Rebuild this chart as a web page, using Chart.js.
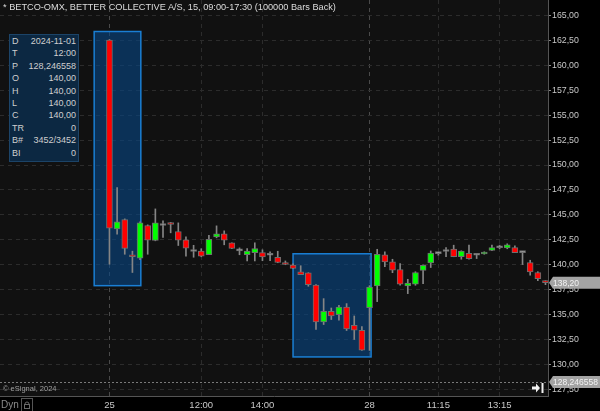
<!DOCTYPE html>
<html>
<head>
<meta charset="utf-8">
<script src="https://cdn.jsdelivr.net/npm/chart.js@4.4.1/dist/chart.umd.min.js"></script>
<style>
  html, body { margin: 0; padding: 0; background: #000; }
  #wrap { position: relative; width: 600px; height: 411px; overflow: hidden; font-family: "Liberation Sans", Arial, sans-serif; }
  #c { position: absolute; left: 0; top: 0; }
  #title { position: absolute; left: 3px; top: 1px; font-size: 9.2px; line-height: 12px; color: #ddd; white-space: nowrap; }
  #dw { position: absolute; left: 9px; top: 34px; width: 70px; height: 128px; background: #0c2842; border: 1px solid #1c4468; box-sizing: border-box; color: #cfcfcf; font-size: 9px; padding: 0 2px 0 2px; }
  #dw .row { display: flex; justify-content: space-between; height: 12.4px; line-height: 12.4px; }
  #copy { position: absolute; left: 3px; top: 384px; font-size: 7.5px; color: #a0a0a0; white-space: nowrap; }
  #dyn { position: absolute; left: 1px; top: 399px; font-size: 10px; color: #8a8a8a; }
</style>
</head>
<body>
<div id="wrap">
  <canvas id="c" width="600" height="411"></canvas>
  <div id="title">* BETCO-OMX, BETTER COLLECTIVE A/S, 15, 09:00-17:30 (100000 Bars Back)</div>
  <div id="dw"></div>
  <div id="copy">© eSignal, 2024</div>
  <div id="dyn">Dyn</div>
</div>
<script>
// 15 minute bars, Fri 25 and Mon 28
const opens  = [162.54, 143.60, 144.54, 140.98, 140.65, 143.94, 142.43, 143.94, 144.20, 143.33,
                142.49, 141.33, 141.36, 141.02, 142.78, 143.10, 142.19, 141.39, 141.02, 141.22,
                141.23, 140.95, 140.75, 140.18, 139.97, 139.30, 139.18, 137.97, 134.26, 135.33,
                135.00, 135.76, 133.92, 133.43,
                135.70, 137.87, 141.00, 140.28, 139.52, 137.87, 138.04, 139.42, 140.18, 141.12,
                141.33, 141.56, 140.82, 141.15, 140.95, 141.08, 141.43, 141.70, 141.69, 141.73,
                141.22, 140.22, 139.22, 138.40];
const highs  = [162.60, 147.75, 144.60, 141.36, 144.30, 144.00, 145.60, 144.40, 144.25, 144.20,
                142.80, 141.95, 141.60, 142.96, 143.90, 143.40, 142.20, 141.69, 141.63, 142.20,
                141.50, 141.30, 141.35, 140.38, 140.10, 139.90, 139.20, 138.00, 136.60, 135.66,
                135.93, 136.10, 134.86, 133.80,
                137.90, 141.55, 141.30, 140.55, 140.12, 138.54, 139.30, 140.00, 141.38, 141.25,
                141.73, 141.96, 141.40, 141.96, 141.00, 141.30, 141.96, 141.96, 142.10, 141.90,
                141.30, 140.45, 139.30, 138.40];
const lows   = [140.05, 143.06, 141.05, 139.22, 140.50, 141.05, 142.40, 142.73, 143.20, 141.93,
                140.85, 140.75, 140.80, 141.00, 142.70, 142.00, 141.60, 141.00, 140.38, 140.38,
                140.40, 140.40, 140.20, 140.00, 139.60, 139.00, 137.84, 133.50, 134.00, 134.50,
                134.43, 133.40, 132.50, 131.40,
                131.40, 136.30, 139.80, 139.20, 137.94, 137.10, 137.94, 138.10, 139.72, 140.95,
                140.80, 140.80, 140.55, 140.55, 140.62, 141.05, 141.40, 141.60, 141.60, 141.20,
                140.02, 138.95, 138.40, 138.00];
const closes = [143.66, 144.30, 141.63, 140.80, 144.20, 142.46, 144.20, 143.94, 144.04, 142.46,
                141.66, 141.33, 140.85, 142.56, 143.10, 142.46, 141.63, 141.39, 141.36, 141.63,
                140.78, 140.95, 140.22, 140.02, 139.64, 139.00, 138.00, 134.26, 135.33, 134.86,
                135.76, 133.55, 133.43, 131.42,
                137.77, 141.05, 140.28, 139.45, 138.04, 138.17, 139.22, 139.95, 141.18, 141.12,
                141.33, 140.80, 141.36, 140.62, 140.95, 141.28, 141.73, 141.70, 141.99, 141.22,
                141.22, 139.28, 138.61, 138.20];

const xTickIdx  = [0, 12, 20, 34, 43, 51];
const xTickText = ['25', '12:00', '14:00', '28', '11:15', '13:15'];
const sessionIdx = [0, 34];
const yTicks = [127.5, 130, 132.5, 135, 137.5, 140, 142.5, 145, 147.5, 150, 152.5, 155, 157.5, 160, 162.5, 165];

const lastPrice = 138.20;
const cursorPrice = 128.246558;

// drawn rectangles (bar index / price)
const boxFrom = [-2.0, 24.0];
const boxTo   = [4.1, 34.2];
const boxTop  = [163.4, 141.1];
const boxBot  = [137.9, 130.75];

const dwLabels = ['D', 'T', 'P', 'O', 'H', 'L', 'C', 'TR', 'B#', 'BI'];
const dwValues = ['2024-11-01', '12:00', '128,246558', '140,00', '140,00', '140,00', '140,00', '0', '3452/3452', '0'];

const dw = document.getElementById('dw');
dwLabels.forEach((l, i) => {
    const r = document.createElement('div');
    r.className = 'row';
    r.innerHTML = '<span>' + l + '</span><span>' + dwValues[i] + '</span>';
    dw.appendChild(r);
});

const GREEN = '#00ff00', RED = '#ff0000', DOJI = '#a8a8a8';
const FONT = '"Liberation Sans", Arial, sans-serif';
const fmt = v => v.toFixed(2).replace('.', ',');

const bodies = opens.map((o, i) => ({x: i, y: [Math.min(o, closes[i]), Math.max(o, closes[i])]}));
const wicks = opens.map((o, i) => ({x: i, y: [lows[i], highs[i]]}));
const bodyColors = opens.map((o, i) => closes[i] > o ? GREEN : (closes[i] < o ? RED : DOJI));

const decor = {
    id: 'decor',
    beforeDraw(chart) {
        const {ctx, chartArea: a} = chart;
        ctx.save();
        ctx.fillStyle = '#000';
        ctx.fillRect(0, 0, chart.width, chart.height);
        ctx.fillStyle = '#111111';
        ctx.fillRect(a.left, a.top, a.right - a.left, a.bottom - a.top);
        ctx.restore();
    },
    beforeDatasetsDraw(chart) {
        const {ctx, chartArea: a, scales: {x, y}} = chart;
        ctx.save();
        ctx.beginPath();
        ctx.rect(a.left, a.top, a.right - a.left, a.bottom - a.top);
        ctx.clip();
        for (let i = 0; i < boxFrom.length; i++) {
            const x0 = x.getPixelForValue(boxFrom[i]), x1 = x.getPixelForValue(boxTo[i]);
            const y0 = y.getPixelForValue(boxTop[i]), y1 = y.getPixelForValue(boxBot[i]);
            ctx.fillStyle = 'rgba(8, 70, 130, 0.62)';
            ctx.fillRect(x0, y0, x1 - x0, y1 - y0);
            ctx.strokeStyle = '#1a7fd4';
            ctx.lineWidth = 1.5;
            ctx.strokeRect(x0, y0, x1 - x0, y1 - y0);
        }
        // cursor price line
        const py = Math.round(y.getPixelForValue(cursorPrice)) + 0.5;
        ctx.strokeStyle = '#7a7a7a';
        ctx.lineWidth = 1;
        ctx.setLineDash([2, 2]);
        ctx.beginPath();
        ctx.moveTo(a.left, py);
        ctx.lineTo(a.right, py);
        ctx.stroke();
        ctx.restore();
    },
    afterDraw(chart) {
        const {ctx, chartArea: a, scales: {y}} = chart;
        ctx.save();
        // price tags on the axis
        const tag = (v, text) => {
            const ty = y.getPixelForValue(v);
            ctx.fillStyle = '#a3a3a3';
            ctx.beginPath();
            ctx.moveTo(a.right + 1, ty);
            ctx.lineTo(a.right + 5, ty - 6);
            ctx.lineTo(600, ty - 6);
            ctx.lineTo(600, ty + 6);
            ctx.lineTo(a.right + 5, ty + 6);
            ctx.closePath();
            ctx.fill();
            ctx.fillStyle = '#f2f2f2';
            ctx.font = '8.5px ' + FONT;
            ctx.textBaseline = 'middle';
            ctx.textAlign = 'left';
            ctx.fillText(text, a.right + 5, ty + 0.5);
        };
        tag(lastPrice, fmt(lastPrice));
        tag(cursorPrice, cursorPrice.toString().replace('.', ','));
        // scroll-to-end arrow
        const ay = 388;
        ctx.fillStyle = '#f0f0f0';
        ctx.beginPath();
        ctx.moveTo(532, ay - 1.5);
        ctx.lineTo(536, ay - 1.5);
        ctx.lineTo(536, ay - 4.5);
        ctx.lineTo(540, ay);
        ctx.lineTo(536, ay + 4.5);
        ctx.lineTo(536, ay + 1.5);
        ctx.lineTo(532, ay + 1.5);
        ctx.closePath();
        ctx.fill();
        ctx.fillRect(541.5, ay - 5, 2, 10);
        // lock box next to Dyn
        ctx.strokeStyle = '#555';
        ctx.lineWidth = 1;
        ctx.strokeRect(21.5, 398.5, 11, 13);
        ctx.strokeStyle = '#6a6a6a';
        ctx.strokeRect(24.5, 404.5, 5, 4);
        ctx.beginPath();
        ctx.arc(27, 404, 2, Math.PI, 0);
        ctx.stroke();
        ctx.restore();
    }
};

new Chart(document.getElementById('c'), {
    type: 'bar',
    data: {
        datasets: [
            {
                data: bodies,
                backgroundColor: bodyColors,
                borderColor: '#6e6e6e',
                borderWidth: 1,
                borderSkipped: false,
                barThickness: 6,
                minBarLength: 2,
                grouped: false,
                order: 0
            },
            {
                data: wicks,
                backgroundColor: '#858585',
                borderWidth: 0,
                barThickness: 1,
                grouped: false,
                order: 1
            }
        ]
    },
    options: {
        responsive: false,
        animation: false,
        layout: {padding: 0},
        plugins: {legend: {display: false}, tooltip: {enabled: false}},
        scales: {
            x: {
                type: 'linear',
                min: -14.31,
                max: 57.33,
                offset: false,
                afterFit: s => { s.height = 15; s.paddingLeft = 0; s.paddingRight = 0; },
                afterBuildTicks: s => { s.ticks = xTickIdx.map(v => ({value: v})); },
                grid: {
                    offset: false,
                    drawTicks: false,
                    color: ctx => sessionIdx.includes(ctx.tick && ctx.tick.value) ? '#4a4a4a' : '#2c2c2c'
                },
                border: {display: true, color: '#555', dash: [4, 4]},
                ticks: {
                    color: '#c8c8c8',
                    padding: 4,
                    maxRotation: 0,
                    autoSkip: false,
                    font: {family: FONT, size: 9.5},
                    callback: v => xTickText[xTickIdx.indexOf(v)]
                }
            },
            y: {
                position: 'right',
                min: 126.83,
                max: 166.56,
                afterFit: s => { s.width = 52; s.paddingTop = 0; s.paddingBottom = 0; },
                afterBuildTicks: s => { s.ticks = yTicks.map(v => ({value: v})); },
                grid: {
                    color: '#2c2c2c',
                    tickLength: 3,
                    tickColor: '#8a8a8a',
                    tickBorderDash: []
                },
                border: {display: true, color: '#555', dash: [4, 4]},
                ticks: {
                    color: '#c8c8c8',
                    padding: 1,
                    font: {family: FONT, size: 8.8},
                    callback: v => fmt(v)
                }
            }
        }
    },
    plugins: [decor]
});
</script>
</body>
</html>
